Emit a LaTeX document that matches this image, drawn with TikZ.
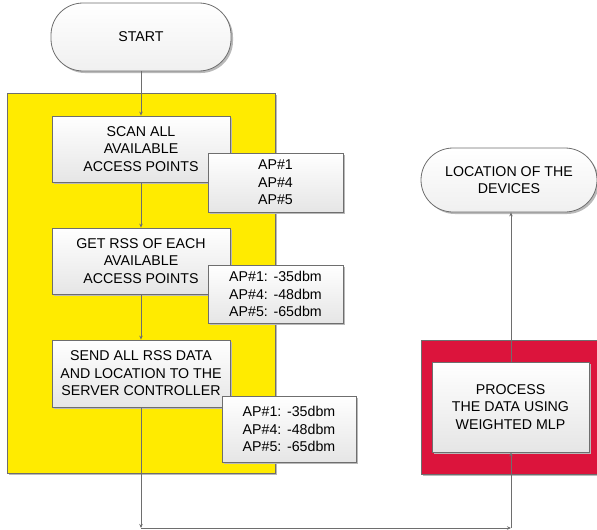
\documentclass[tikz,border=0pt]{standalone}
\usepackage{fontspec}
\setmainfont{Liberation Sans}
\usetikzlibrary{arrows.meta,shadows}
\definecolor{boxyellow}{RGB}{255,235,0}
\definecolor{boxred}{RGB}{220,20,60}
\definecolor{edgegray}{RGB}{110,110,110}
\begin{document}
\begin{tikzpicture}[x=1pt,y=-1pt,
  txt/.style={align=center,font=\fontsize{14.2}{17.5}\selectfont,text=black},
  procbox/.style={txt,draw=edgegray,line width=0.8pt,top color=white,bottom color=gray!20,
    drop shadow={shadow xshift=2pt,shadow yshift=-2pt,fill=gray!55,opacity=1},inner sep=0pt},
  termbox/.style={procbox,rounded corners=32pt,top color=white,bottom color=gray!12},
  panel/.style={draw=edgegray,line width=0.6pt,
    drop shadow={shadow xshift=2pt,shadow yshift=-2pt,fill=gray!55,opacity=1}},
  flow/.style={draw=edgegray,line width=0.8pt,-{Stealth[length=4pt,width=3.5pt]}}]
\useasboundingbox (0,0) rectangle (597,530);
\clip (0,0) rectangle (597,530);
% background panels
\path[panel,fill=boxyellow] (7,93) rectangle (275,473);
\path[panel,fill=boxred] (421,340) rectangle (605,474);
% coordinates for connector corners
\coordinate (c1) at (141,528);
\coordinate (c2) at (511,528);
% nodes
\node[termbox,minimum width=180pt,minimum height=68pt] (start) at (141,37) {START};
\node[procbox,minimum width=178pt,minimum height=66pt] (scan) at (141,149) {SCAN ALL\\AVAILABLE\\ACCESS POINTS};
\node[procbox,minimum width=178pt,minimum height=66pt] (get) at (141,261) {GET RSS OF EACH\\AVAILABLE\\ACCESS POINTS};
\node[procbox,minimum width=178pt,minimum height=67pt] (send) at (141,373.5) {SEND ALL RSS DATA\\AND LOCATION TO THE\\SERVER CONTROLLER};
\node[termbox,minimum width=176pt,minimum height=64pt] (loc) at (509,180) {LOCATION OF THE\\DEVICES};
\node[procbox,minimum width=157pt,minimum height=90pt] (proc) at (510.5,407) {PROCESS\\THE DATA USING\\WEIGHTED MLP};
% connectors
\draw[flow] (start) -- (scan);
\draw[flow] (scan) -- (get);
\draw[flow] (get) -- (send);
\draw[flow] (send) -- (c1);
\draw[flow] (c1) -- (c2);
\draw[flow] (c2) -- (proc.south -| c2);
\draw[flow] (proc.north -| c2) -- (loc.south -| c2);
% AP boxes on top
\node[procbox,minimum width=135pt,minimum height=59pt] (ap1) at (275.5,182.5) {AP\#1\\AP\#4\\AP\#5};
\node[procbox,minimum width=135pt,minimum height=58pt] (ap2) at (275.5,294) {AP\#1:\hspace{0.4em}-35dbm\\AP\#4:\hspace{0.4em}-48dbm\\AP\#5:\hspace{0.4em}-65dbm};
\node[procbox,minimum width=134pt,minimum height=66pt] (ap3) at (289,429) {AP\#1:\hspace{0.4em}-35dbm\\AP\#4:\hspace{0.4em}-48dbm\\AP\#5:\hspace{0.4em}-65dbm};
\end{tikzpicture}
\end{document}
